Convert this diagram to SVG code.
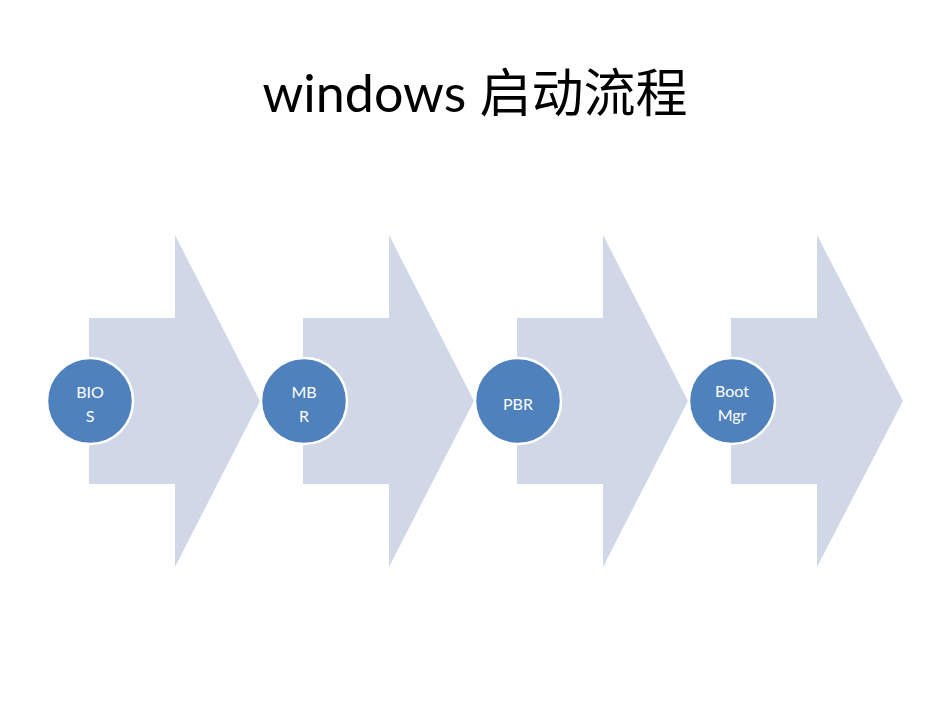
<svg xmlns="http://www.w3.org/2000/svg" width="950" height="713" viewBox="0 0 950 713">
<style>
.arrow{fill:#d0d8e8}
.c{fill:#4f81bd;stroke:#fff;stroke-width:2.5}
.t{font-family:Lato,"Open Sans",sans-serif;font-size:16px;fill:#fff;text-anchor:middle}
</style>
<rect width="950" height="713" fill="#fff"/>
<text x="475" y="112" font-family="Lato,'Noto Sans CJK SC',sans-serif" font-size="52" text-anchor="middle" fill="#000">windows 启动流程</text>
<g id="connectors">
<polygon class="arrow" points="89,318 175,318 175,235 260,401 175,567 175,484 89,484"/>
<polygon class="arrow" points="303,318 389,318 389,235 474,401 389,567 389,484 303,484"/>
<polygon class="arrow" points="517,318 603,318 603,235 688,401 603,567 603,484 517,484"/>
<polygon class="arrow" points="731,318 817,318 817,235 903,401 817,567 817,484 731,484"/>
</g>
<g id="bios"><circle class="c" cx="90" cy="401" r="43"/><text class="t" x="90" y="398">BIO</text><text class="t" x="90" y="422">S</text></g>
<g id="mbr"><circle class="c" cx="304" cy="401" r="43"/><text class="t" x="304" y="398">MB</text><text class="t" x="304" y="422">R</text></g>
<g id="pbr"><circle class="c" cx="518" cy="401" r="43"/><text class="t" x="518" y="410">PBR</text></g>
<g id="bootmgr"><circle class="c" cx="732" cy="401" r="43"/><text class="t" x="732" y="397">Boot</text><text class="t" x="732" y="421">Mgr</text></g>
</svg>
